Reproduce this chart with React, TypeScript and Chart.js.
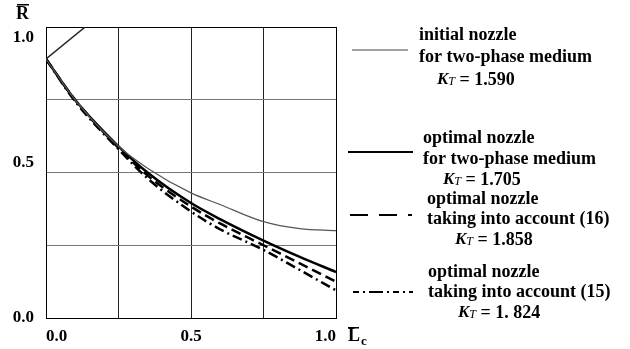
import React, { useEffect, useRef } from "react";
import { Chart, registerables } from "chart.js";

Chart.register(...registerables);

const xValues = [0, 0.1, 0.25, 0.35, 0.5, 0.6, 0.75, 0.875, 1.0];
const initialNozzle = [0.89, 0.75, 0.59, 0.515, 0.43, 0.39, 0.331, 0.307, 0.3];
const optimalTwoPhase = [0.89, 0.75, 0.59, 0.5, 0.395, 0.34, 0.266, 0.21, 0.158];
const optimal16 = [0.89, 0.75, 0.585, 0.49, 0.383, 0.325, 0.25, 0.188, 0.125];
const optimal15 = [0.89, 0.745, 0.58, 0.48, 0.366, 0.305, 0.234, 0.165, 0.095];
const inletX = [0, 0.135];
const inletY = [0.89, 1.0];

const tickLabels = ["0.0", "0.5", "1.0"];

const legendBlocks = [
  { line1: "initial nozzle", line2: "for two-phase medium", kt: "1.590" },
  { line1: "optimal nozzle", line2: "for two-phase medium", kt: "1.705" },
  { line1: "optimal nozzle", line2: "taking into account (16)", kt: "1.858" },
  { line1: "optimal nozzle", line2: "taking into account (15)", kt: "1. 824" },
];

const pts = (xs: number[], ys: number[]) => xs.map((x, i) => ({ x, y: ys[i] }));

const labelFor = (v: number) => {
  const idx = Math.round(v * 2);
  if (Math.abs(v * 2 - idx) < 1e-6) return tickLabels[idx];
  return "";
};

// y labels in the original sit slightly off their grid lines
const yLabelFor = (v: number): any => {
  const t = labelFor(v);
  if (!t) return "";
  if (v >= 1) return ["", t];
  if (v > 0) return [t, ""];
  return t;
};

const SERIF = "'Liberation Serif', 'DejaVu Serif', serif";

const overlayPlugin = {
  id: "overlay",
  afterDraw(chart: any) {
    const ctx = chart.ctx as CanvasRenderingContext2D;
    ctx.save();
    ctx.fillStyle = "#000";
    ctx.strokeStyle = "#000";
    ctx.textBaseline = "middle";
    ctx.textAlign = "left";

    // axis titles
    ctx.font = `bold 18px ${SERIF}`;
    ctx.fillText("R", 16, 14);
    ctx.fillRect(17, 4, 12, 1.5);
    ctx.fillText("L", 348, 336);
    ctx.fillRect(348, 327, 11, 1.5);
    ctx.font = `bold 13px ${SERIF}`;
    ctx.fillText("c", 361, 342);

    // legend samples
    const samples = [
      { x1: 352, x2: 408, y: 50, w: 1, dash: [] as number[], color: "#444" },
      { x1: 348, x2: 413, y: 152, w: 2.2, dash: [] as number[], color: "#000" },
      { x1: 350, x2: 412, y: 215, w: 2.2, dash: [18, 11], color: "#000" },
      { x1: 353, x2: 413, y: 292, w: 2, dash: [6, 4, 2, 4, 14, 4, 2, 4], color: "#000" },
    ];
    samples.forEach((s) => {
      ctx.beginPath();
      ctx.lineWidth = s.w;
      ctx.strokeStyle = s.color;
      ctx.setLineDash(s.dash);
      ctx.moveTo(s.x1, s.y);
      ctx.lineTo(s.x2, s.y);
      ctx.stroke();
    });
    ctx.setLineDash([]);

    const pos = [
      { x: 419, y1: 35, y2: 57, kx: 437, ky: 80 },
      { x: 423, y1: 138, y2: 159, kx: 443, ky: 180 },
      { x: 427, y1: 199, y2: 219, kx: 455, ky: 240 },
      { x: 428, y1: 272, y2: 292, kx: 458, ky: 313 },
    ];
    legendBlocks.forEach((b, i) => {
      const p = pos[i];
      ctx.font = `bold 18px ${SERIF}`;
      ctx.fillText(b.line1, p.x, p.y1);
      ctx.fillText(b.line2, p.x, p.y2);
      ctx.font = `bold italic 17px ${SERIF}`;
      ctx.fillText("K", p.kx, p.ky);
      let x = p.kx + ctx.measureText("K").width;
      ctx.font = `italic 12px ${SERIF}`;
      ctx.fillText("T", x, p.ky + 2);
      x += ctx.measureText("T").width;
      ctx.font = `bold 18px ${SERIF}`;
      ctx.fillText(" = " + b.kt, x, p.ky);
    });
    ctx.restore();
  },
};

export default function App() {
  const ref = useRef<HTMLCanvasElement>(null);
  useEffect(() => {
    if (!ref.current) return;
    const chart = new Chart(ref.current, {
      type: "line",
      data: {
        datasets: [
          {
            label: "inlet",
            data: pts(inletX, inletY),
            borderColor: "#222",
            borderWidth: 1.5,
            pointRadius: 0,
            tension: 0,
          },
          {
            label: "initial nozzle for two-phase medium",
            data: pts(xValues, initialNozzle),
            borderColor: "#555",
            borderWidth: 1.2,
            pointRadius: 0,
            cubicInterpolationMode: "monotone",
          },
          {
            label: "optimal nozzle for two-phase medium",
            data: pts(xValues, optimalTwoPhase),
            borderColor: "#000",
            borderWidth: 2.5,
            pointRadius: 0,
            cubicInterpolationMode: "monotone",
          },
          {
            label: "optimal nozzle taking into account (16)",
            data: pts(xValues, optimal16),
            borderColor: "#000",
            borderWidth: 2.5,
            borderDash: [10, 5],
            pointRadius: 0,
            cubicInterpolationMode: "monotone",
          },
          {
            label: "optimal nozzle taking into account (15)",
            data: pts(xValues, optimal15),
            borderColor: "#000",
            borderWidth: 2.5,
            borderDash: [10, 4, 2, 4],
            pointRadius: 0,
            cubicInterpolationMode: "monotone",
          },
        ],
      },
      options: {
        animation: false,
        responsive: true,
        maintainAspectRatio: false,
        layout: { padding: { left: 0, top: 27, right: 294, bottom: 0 } },
        plugins: { legend: { display: false }, tooltip: { enabled: false } },
        scales: {
          x: {
            type: "linear",
            min: 0,
            max: 1,
            afterFit: (s: any) => {
              s.height = 31;
              s.paddingLeft = 0;
              s.paddingRight = 0;
            },
            border: { display: true, color: "#000", width: 1 },
            grid: {
              drawTicks: false,
              color: (c: any) => (c.tick && (c.tick.value === 0 || c.tick.value === 1) ? "#000" : "#222"),
              lineWidth: 1,
            },
            ticks: {
              stepSize: 0.25,
              padding: 8,
              align: "inner",
              maxRotation: 0,
              autoSkip: false,
              color: "#000",
              font: { family: SERIF, size: 17, weight: "bold" },
              callback: (v: any) => labelFor(Number(v)),
            },
          },
          y: {
            type: "linear",
            min: 0,
            max: 1,
            afterFit: (s: any) => {
              s.width = 46;
              s.paddingTop = 0;
              s.paddingBottom = 0;
            },
            border: { display: true, color: "#000", width: 1 },
            grid: {
              drawTicks: false,
              color: (c: any) => (c.tick && (c.tick.value === 0 || c.tick.value === 1) ? "#000" : "#777"),
              lineWidth: 1,
            },
            ticks: {
              stepSize: 0.25,
              padding: 12,
              autoSkip: false,
              color: "#000",
              font: { family: SERIF, size: 17, weight: "bold", lineHeight: 1.2 },
              callback: (v: any) => yLabelFor(Number(v)),
            },
          },
        },
      },
      plugins: [overlayPlugin],
    } as any);
    return () => chart.destroy();
  }, []);
  return (
    <div style={{ position: "fixed", left: 0, top: 0, width: 630, height: 349, background: "#fff" }}>
      <canvas ref={ref} />
    </div>
  );
}
